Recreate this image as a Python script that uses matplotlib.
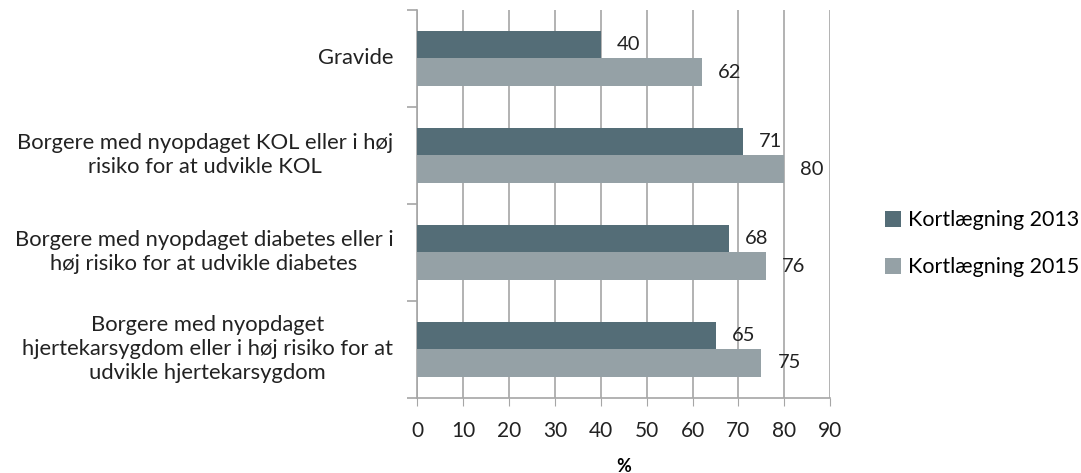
import numpy as np
import matplotlib.pyplot as plt

plt.rcParams['font.family'] = ['Lato', 'DejaVu Sans']

categories = ['Gravide',
              'Borgere med nyopdaget KOL eller i høj\nrisiko for at udvikle KOL',
              'Borgere med nyopdaget diabetes eller i\nhøj risiko for at udvikle diabetes',
              'Borgere med nyopdaget\nhjertekarsygdom eller i høj risiko for at\nudvikle hjertekarsygdom']
v2013 = [40, 71, 68, 65]
v2015 = [62, 80, 76, 75]
series = ['Kortlægning 2013', 'Kortlægning 2015']
c2013 = '#546d77'
c2015 = '#95a1a6'
grid_c = '#a6a6a6'

fig = plt.figure(figsize=(10.81, 4.73), dpi=100)
ax = fig.add_axes([0.386, 0.159, 0.382, 0.82])

n = len(categories)
y = np.arange(n)[::-1]  # top category first
h = 0.282
ax.barh(y + h / 2, v2013, height=h, color=c2013, label=series[0], zorder=3)
ax.barh(y - h / 2, v2015, height=h, color=c2015, label=series[1], zorder=3)

for yi, a, b in zip(y, v2013, v2015):
    ax.text(a + 3.5, yi + h / 2, str(a), va='center', ha='left', fontsize=14.5, color='#222222')
    ax.text(b + 3.5, yi - h / 2, str(b), va='center', ha='left', fontsize=14.5, color='#222222')

ax.set_xlim(0, 90)
ax.set_ylim(-0.5, n - 0.5)
ax.set_xticks(range(0, 91, 10))
ax.xaxis.grid(True, color=grid_c, lw=1.2, zorder=0)
ax.tick_params(axis='x', length=6, color=grid_c, labelsize=15, pad=11, labelcolor='#222222')

# category labels placed at centers, ticks at boundaries
ax.set_yticks(np.arange(-0.5, n, 1.0))
ax.set_yticklabels([])
ax.tick_params(axis='y', length=7, color=grid_c, width=1.2)
for yi, lab in zip(y, categories):
    ax.text(-0.058, yi, lab, transform=ax.get_yaxis_transform(), ha='right',
            va='center', fontsize=15.8, color='#222222', multialignment='center',
            linespacing=1.25)

for s in ['top', 'right']:
    ax.spines[s].set_visible(False)
for s in ['left', 'bottom']:
    ax.spines[s].set_color(grid_c)
    ax.spines[s].set_linewidth(1.2)

ax.set_xlabel('%', fontweight='bold', fontsize=13, labelpad=12)

ax.legend(loc='center left', bbox_to_anchor=(1.085, 0.397), frameon=False,
          fontsize=15.5, handlelength=0.75, handleheight=0.75, handletextpad=0.35,
          labelspacing=1.25)

fig.savefig('out.png', dpi=100)
